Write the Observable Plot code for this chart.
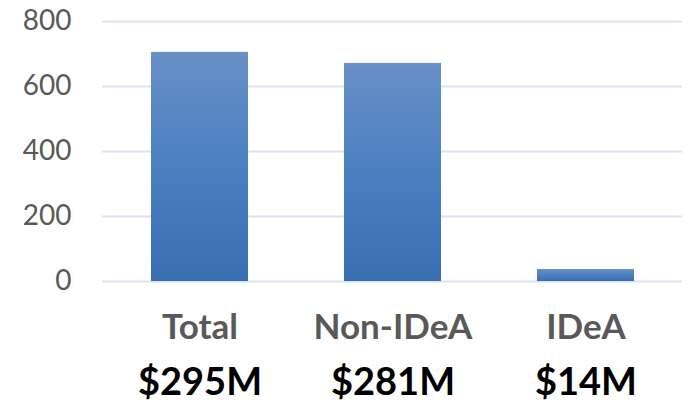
<!DOCTYPE html>
<html>
<head>
<meta charset="utf-8">
<script src="https://cdn.jsdelivr.net/npm/d3@7"></script>
<script src="https://cdn.jsdelivr.net/npm/@observablehq/plot@0.6"></script>
<style>
  html, body { margin: 0; padding: 0; background: #fff; }
  #chart svg { display: block; }
</style>
</head>
<body>
<div id="chart"></div>
<script>
const categories = ["Total", "Non-IDeA", "IDeA"];
const values = [705, 671, 37];
const dollarLabels = ["$295M", "$281M", "$14M"];
const yTicks = [0, 200, 400, 600, 800];

const data = categories.map((c, i) => ({category: c, value: values[i], dollar: dollarLabels[i]}));

const defs = () => {
  const d = d3.create("svg:defs");
  const g = d.append("linearGradient").attr("id", "barGrad")
    .attr("x1", 0).attr("y1", 0).attr("x2", 0).attr("y2", 1);
  g.append("stop").attr("offset", "0%").attr("stop-color", "#6990c7");
  g.append("stop").attr("offset", "50%").attr("stop-color", "#4a7fc0");
  g.append("stop").attr("offset", "100%").attr("stop-color", "#3a6eb2");
  return d.node();
};

const chart = Plot.plot({
  width: 692,
  height: 403,
  marginLeft: 102,
  marginRight: 10,
  marginTop: 21,
  marginBottom: 122,
  style: {fontFamily: "Lato, sans-serif", background: "#fff"},
  x: {domain: categories, paddingInner: 0.5, paddingOuter: 0.25, axis: null},
  y: {domain: [0, 800], axis: null},
  marks: [
    defs,
    Plot.gridY(yTicks, {stroke: "#d9e4f3", strokeWidth: 2, strokeOpacity: 1}),
    Plot.barY(data, {x: "category", y: "value", fill: "url(#barGrad)"}),
    Plot.axisY(yTicks, {tickSize: 0, tickPadding: 31, fontSize: 28, fill: "#595959", label: null, tickFormat: d => String(d)}),
    Plot.text(data, {x: "category", text: "category", frameAnchor: "bottom", dy: 46.5, lineAnchor: "middle",
      fontSize: 35, fontWeight: "bold", fill: "#595959"}),
    Plot.text(data, {x: "category", text: "dollar", frameAnchor: "bottom", dy: 101, lineAnchor: "middle",
      fontSize: 38, fontWeight: "bold", fill: "#000"})
  ]
});
document.getElementById("chart").appendChild(chart);
</script>
</body>
</html>
